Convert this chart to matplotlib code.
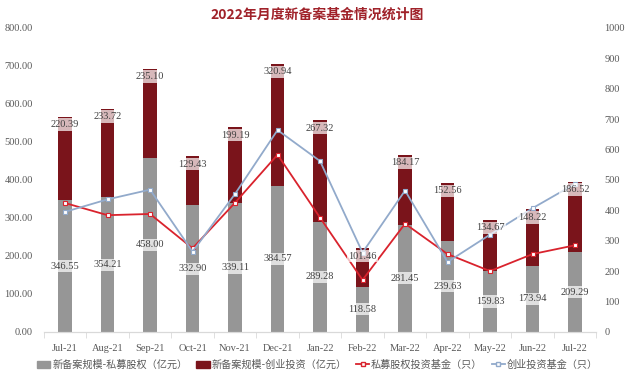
import numpy as np
import matplotlib
matplotlib.use('Agg')
import matplotlib.pyplot as plt
from matplotlib.lines import Line2D
from matplotlib.patches import Patch

plt.rcParams['font.family'] = ['Liberation Serif', 'Noto Sans CJK SC']

months = ['Jul-21', 'Aug-21', 'Sep-21', 'Oct-21', 'Nov-21', 'Dec-21', 'Jan-22',
          'Feb-22', 'Mar-22', 'Apr-22', 'May-22', 'Jun-22', 'Jul-22']
pe_scale = [346.55, 354.21, 458.00, 332.90, 339.11, 384.57, 289.28,
            118.58, 281.45, 239.63, 159.83, 173.94, 209.29]
vc_scale = [220.39, 233.72, 235.10, 129.43, 199.19, 320.94, 267.32,
            101.46, 184.17, 152.56, 134.67, 148.22, 186.52]
pe_count = [424, 384, 388, 275, 425, 583, 376, 171, 356, 256, 200, 256, 285]
vc_count = [395, 436, 468, 264, 454, 664, 562, 261, 465, 230, 320, 407, 487]

c_gray = '#969696'
c_dark = '#7A141B'
c_red = '#D9232D'
c_blue = '#92AACB'

fig = plt.figure(figsize=(6.35, 3.78), dpi=100)
ax = fig.add_axes([0.069, 0.122, 0.87, 0.804])
ax2 = ax.twinx()

x = np.arange(len(months))
w = 0.31
ax.bar(x, pe_scale, w, color=c_gray, zorder=2)
ax.bar(x, vc_scale, w, bottom=pe_scale, color=c_dark, zorder=2)

ax2.plot(x, pe_count, color=c_red, lw=1.3, marker='s', ms=3.2, mfc='white', mec=c_red,
         mew=0.8, zorder=4)
ax2.plot(x, vc_count, color=c_blue, lw=1.3, marker='s', ms=3.2, mfc='white', mec=c_blue,
         mew=0.8, zorder=4)

# value labels drawn on the right-hand axes so they sit above the lines
box = dict(boxstyle='square,pad=0.15', fc='white', ec='none', alpha=0.7)
k = 1000 / 800
for xi, lo, hi in zip(x, pe_scale, vc_scale):
    ax2.annotate(f'{lo:.2f}', (xi, lo / 2 * k), ha='center', va='center', fontsize=7.5,
                 color='#404040', bbox=box, zorder=5)
    ax2.annotate(f'{hi:.2f}', (xi, (lo + hi) * k), xytext=(0, -2.5), textcoords='offset points',
                 ha='center', va='top', fontsize=7.5, color='#404040', bbox=box, zorder=5)

ax.set_xlim(-0.5, len(months) - 0.5)
ax.set_ylim(0, 800)
ax.set_yticks(np.arange(0, 801, 100))
ax.set_yticklabels([f'{v:.2f}' for v in np.arange(0, 801, 100)])
ax2.set_ylim(0, 1000)
ax2.set_yticks(np.arange(0, 1001, 100))
ax.set_xticks(x)
ax.set_xticklabels(months)
ax.set_xticks(np.arange(-0.5, len(months)), minor=True)

for a in (ax, ax2):
    for s in ['top', 'left', 'right']:
        a.spines[s].set_visible(False)
    a.spines['bottom'].set_color('#D9D9D9')
ax.tick_params(axis='y', length=0, labelsize=7.5, labelcolor='#595959', pad=8)
ax2.tick_params(axis='y', length=0, labelsize=7.5, labelcolor='#595959', pad=6)
ax.tick_params(axis='x', which='major', length=0, labelsize=7.5, labelcolor='#595959', pad=9)
ax.tick_params(axis='x', which='minor', length=4, color='#D9D9D9')

fig.text(0.5, 0.962, '2022年月度新备案基金情况统计图', ha='center', va='center',
         fontsize=10, fontweight='bold', color='#A0222A', family=['Noto Sans CJK SC'])

handles = [
    Patch(color=c_gray, label='新备案规模-私募股权（亿元）'),
    Patch(color=c_dark, label='新备案规模-创业投资（亿元）'),
    Line2D([], [], color=c_red, lw=1.3, marker='s', ms=3.2, mfc='white', mec=c_red,
           label='私募股权投资基金（只）'),
    Line2D([], [], color=c_blue, lw=1.3, marker='s', ms=3.2, mfc='white', mec=c_blue,
           label='创业投资基金（只）'),
]
leg = fig.legend(handles=handles, loc='center', bbox_to_anchor=(0.5, 0.035), ncol=4,
                 frameon=False, handlelength=1.3, handletextpad=0.2,
                 columnspacing=0.9, prop={'family': ['Noto Sans CJK SC'], 'size': 7.3})
for t in leg.get_texts():
    t.set_color('#595959')

plt.savefig('out.png', dpi=100)
plt.close()
